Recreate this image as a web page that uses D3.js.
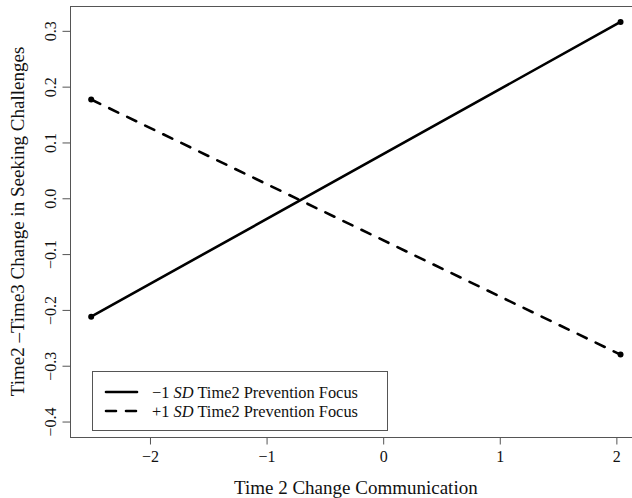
<!DOCTYPE html>
<html>
<head>
<meta charset="utf-8">
<script src="https://cdn.jsdelivr.net/npm/d3@7"></script>
<style>
  body { margin: 0; background: #fff; }
  text { font-family: "Liberation Serif", "Times New Roman", serif; fill: #111; }
</style>
</head>
<body>
<div class="chart"></div>
<script>
// Data.
const commEnds = [-2.5, 2.04];
const lowFocus = [-0.213, 0.315];
const highFocus = [0.176, -0.281];
const xTicks = [-2, -1, 0, 1, 2];
const yTicks = [-0.4, -0.3, -0.2, -0.1, 0.0, 0.1, 0.2, 0.3];
const yLimits = [-0.4, 0.315];
const seriesNames = ['\u22121 ', '+1 '];

// R style axis range, 4% each side.
const expand = ([a, b]) => [a - (b - a) * 0.04, b + (b - a) * 0.04];

function ready() {
  const xDom = expand(d3.extent(commEnds));
  const yDom = expand(yLimits);

  const left = 70;
  const top = 6;
  const bottom = 437;
  const unit = 116.6;

  // Scales.
  const xScale = d3.scaleLinear()
    .domain(xDom)
    .range([left, left + (xDom[1] - xDom[0]) * unit]);

  const yScale = d3.scaleLinear()
    .domain(yDom)
    .range([bottom, top]);

  const svg = d3.select('.chart')
    .append('svg')
    .attr('width', 632)
    .attr('height', 498);

  // Plot box.
  svg.append('rect')
    .attr('x', xScale.range()[0] + 0.5)
    .attr('y', top + 0.5)
    .attr('width', xScale.range()[1] - xScale.range()[0])
    .attr('height', bottom - top)
    .style('fill', 'none')
    .style('stroke', '#555')
    .style('stroke-width', 1);

  // Axes.
  const xAxis = d3.axisBottom(xScale)
    .tickValues(xTicks)
    .tickFormat(d3.format('d'))
    .tickSizeInner(7)
    .tickSizeOuter(0)
    .tickPadding(6);

  const xAxisDraw = svg.append('g')
    .attr('transform', `translate(0.5,${bottom + 0.5})`)
    .call(xAxis)
    .attr('font-family', null)
    .attr('font-size', null);
  xAxisDraw.select('.domain').remove();
  xAxisDraw.selectAll('line').attr('stroke', '#555');
  xAxisDraw.selectAll('text')
    .style('font-size', '16px')
    .attr('fill', '#111');

  const yAxis = d3.axisLeft(yScale)
    .tickValues(yTicks)
    .tickFormat(d3.format('.1f'))
    .tickSizeInner(8)
    .tickSizeOuter(0);

  const yAxisDraw = svg.append('g')
    .attr('transform', `translate(${left + 0.5},0.5)`)
    .call(yAxis)
    .attr('font-family', null)
    .attr('font-size', null);
  yAxisDraw.select('.domain').remove();
  yAxisDraw.selectAll('line').attr('stroke', '#555');
  yAxisDraw.selectAll('text')
    .attr('x', null)
    .attr('dy', null)
    .attr('transform', 'translate(-15,0) rotate(-90)')
    .attr('text-anchor', 'middle')
    .style('font-size', '16px')
    .attr('fill', '#111');

  // Axis titles.
  svg.append('text')
    .attr('x', (xScale.range()[0] + xScale.range()[1]) / 2)
    .attr('y', 494)
    .attr('text-anchor', 'middle')
    .style('font-size', '19px')
    .text('Time 2 Change Communication');

  svg.append('text')
    .attr('transform', `translate(24,${(top + bottom) / 2}) rotate(-90)`)
    .attr('text-anchor', 'middle')
    .style('font-size', '19px')
    .text('Time2 \u2013Time3 Change in Seeking Challenges');

  // Lines.
  const series = [
    {values: lowFocus, dash: null},
    {values: highFocus, dash: '10,10'}
  ];

  const line = d3.line()
    .x((d, i) => xScale(commEnds[i]))
    .y(d => yScale(d));

  series.forEach(s => {
    svg.append('path')
      .datum(s.values)
      .attr('d', line)
      .style('fill', 'none')
      .style('stroke', '#000')
      .style('stroke-width', 2.6)
      .style('stroke-linecap', 'round')
      .style('stroke-dasharray', s.dash);

    svg.selectAll(null)
      .data(s.values)
      .enter()
      .append('circle')
      .attr('cx', (d, i) => xScale(commEnds[i]))
      .attr('cy', d => yScale(d))
      .attr('r', 3)
      .style('fill', '#000');
  });

  // Legend.
  const legend = svg.append('g')
    .attr('transform', 'translate(92,371)');

  legend.append('rect')
    .attr('x', 0.5)
    .attr('y', 0.5)
    .attr('width', 295)
    .attr('height', 59)
    .style('fill', '#fff')
    .style('stroke', '#555');

  series.forEach((s, i) => {
    const yy = 21 + i * 19;
    legend.append('line')
      .attr('x1', 14)
      .attr('x2', 45)
      .attr('y1', yy)
      .attr('y2', yy)
      .style('stroke', '#000')
      .style('stroke-width', 2.6)
      .style('stroke-linecap', 'round')
      .style('stroke-dasharray', s.dash);

    const label = legend.append('text')
      .attr('x', 60)
      .attr('y', yy + 5.5)
      .style('font-size', '16.4px');
    label.append('tspan').text(seriesNames[i]);
    label.append('tspan').style('font-style', 'italic').text('SD');
    label.append('tspan').text(' Time2 Prevention Focus');
  });
}

ready();
</script>
</body>
</html>
